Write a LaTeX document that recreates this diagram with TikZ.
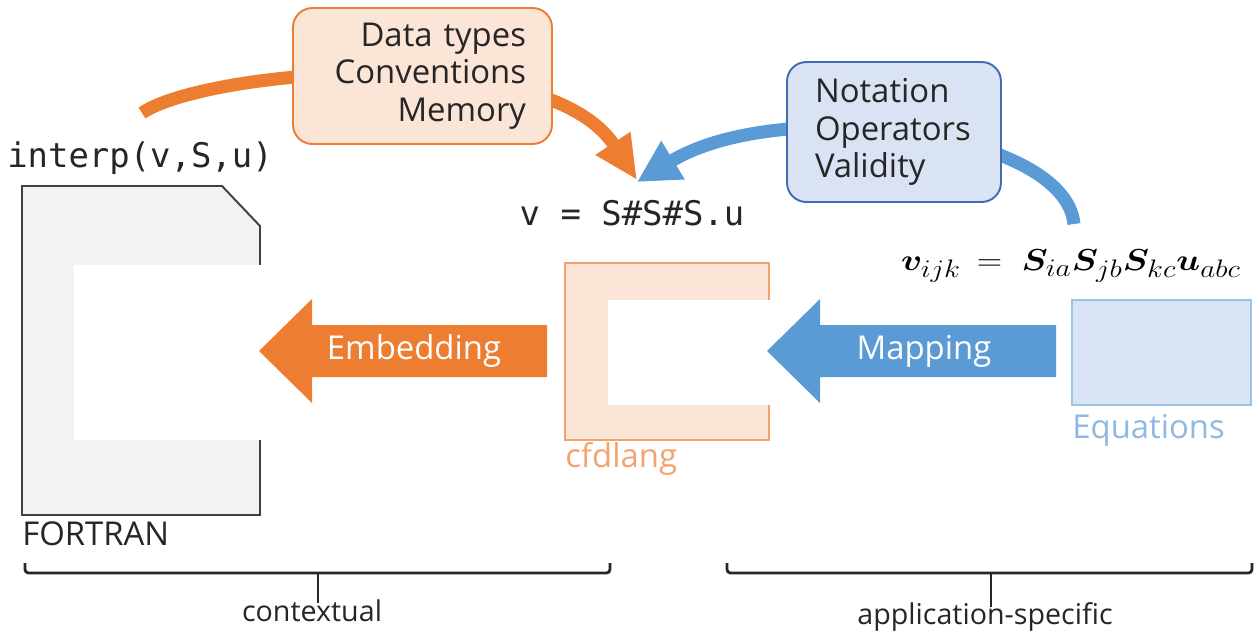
\documentclass[tikz,border=0pt]{standalone}
\usepackage{amsmath,bm}
\usepackage{fontspec}
\setmainfont{Open Sans}
\newfontfamily\codefont{DejaVu Sans Mono}
\usetikzlibrary{arrows.meta}
\definecolor{orangeM}{HTML}{ED7D31}
\definecolor{orangeL}{HTML}{FBE5D6}
\definecolor{orangeB}{HTML}{F4A36E}
\definecolor{blueM}{HTML}{5B9BD5}
\definecolor{blueL}{HTML}{DAE3F3}
\definecolor{blueB}{HTML}{9DC3E6}
\definecolor{blueD}{HTML}{3F6DB5}
\definecolor{eqtext}{HTML}{8FB8E3}
\definecolor{docfill}{HTML}{F2F2F2}
\definecolor{docline}{HTML}{404040}
\definecolor{ink}{HTML}{262626}
\begin{document}
\begin{tikzpicture}[x=0.02cm,y=-0.02cm,
  lbl/.style={font=\fontsize{18.7}{21.3}\selectfont, inner sep=0pt, text=ink},
  code/.style={font=\codefont\fontsize{19.3}{22}\selectfont, inner sep=0pt, text=ink},
  small/.style={font=\fontsize{16.3}{19}\selectfont, inner sep=0pt, text=ink},
  callout/.style={rounded corners=11pt, line width=1.1pt, inner sep=0pt,
    font=\fontsize{18.7}{21.3}\selectfont, text=ink},
  curvearrow/.style={line width=7.4pt},
  brace/.style={line width=1.6pt, draw=ink, rounded corners=2pt},
]
\useasboundingbox (0,0) rectangle (1255,637);

% ---- FORTRAN document
\draw[draw=docline, fill=docfill, line width=1.1pt]
  (22,186) -- (222,186) -- (260,226) -- (260,515) -- (22,515) -- cycle;
\fill[white] (74,265) rectangle (280,440);
\node[lbl, anchor=base west] (fortran) at (22,545) {FORTRAN};
\node[code, anchor=base] (interp) at (140,167) {interp(v,S,u)};

% ---- cfdlang box
\draw[draw=orangeB, fill=orangeL, line width=1.3pt] (565,263) rectangle (769,440);
\fill[white] (608,300) rectangle (788,405);
\node[lbl, anchor=base west, text=orangeB] (cfd) at (565,467) {cfdlang};
\node[code, anchor=base] (dsl) at (632,225) {v = S\#S\#S.u};

% ---- Equations box
\draw[draw=blueB, fill=blueL, line width=1.3pt] (1072,300) rectangle (1251,405);
\node[lbl, anchor=base west, text=eqtext] (eqs) at (1072,438) {Equations};
\node[inner sep=0pt, anchor=base, text=black] (eqn) at (1071,270)
  {\resizebox{6.8cm}{\height}{\fontsize{19}{22}\selectfont
   $\bm{v}_{ijk}\,=\;\bm{S}_{ia}\bm{S}_{jb}\bm{S}_{kc}\bm{u}_{abc}$}};

% ---- block arrows
\fill[orangeM] (547,325) -- (312,325) -- (312,299) -- (259,351) -- (312,403)
  -- (312,377) -- (547,377) -- cycle;
\node[lbl, text=white] (emb) at (414,351) {Embedding};
\fill[blueM] (1056,325) -- (820,325) -- (820,299) -- (767,351) -- (820,403)
  -- (820,377) -- (1056,377) -- cycle;
\node[lbl, text=white] (map) at (924,351) {Mapping};

% ---- curved arrows
\coordinate (os) at (142,113);
\coordinate (tipO) at (637,180);
\coordinate (bs) at (1074,224);
\coordinate (tipB) at (637,182);
\draw[curvearrow, blueM, -{Triangle[width=24pt,length=24pt]}]
  (bs) .. controls (1065,130) and (780,95) .. (tipB);
\draw[curvearrow, orangeM, -{Triangle[width=22pt,length=25pt]}]
  (os) .. controls (205,70) and (545,40) .. (tipO);

% ---- callouts
\node[callout, draw=orangeM, fill=orangeL, minimum width=5.18cm, minimum height=2.72cm,
  text width=4.14cm, align=right] (ctxbox) at (422.5,76)
  {Data types\\Conventions\\Memory};
\node[callout, draw=blueD, fill=blueL, minimum width=4.28cm, minimum height=2.8cm,
  text width=3.16cm, align=left] (appbox) at (894,132)
  {Notation\\Operators\\Validity};

% ---- braces
\draw[brace] (25,563) -- (25,573) -- (610,573) -- (610,563);
\coordinate (bl) at (318,573);
\node[small, anchor=base] (ctx) at (312,621) {contextual};
\draw[line width=1.6pt, draw=ink] (bl) -- (318,603);
\draw[brace] (727,563) -- (727,573) -- (1252,573) -- (1252,563);
\coordinate (br) at (991,573);
\node[small, anchor=base] (app) at (985,624) {application-specific};
\draw[line width=1.6pt, draw=ink] (br) -- (991,607);
\end{tikzpicture}
\end{document}
